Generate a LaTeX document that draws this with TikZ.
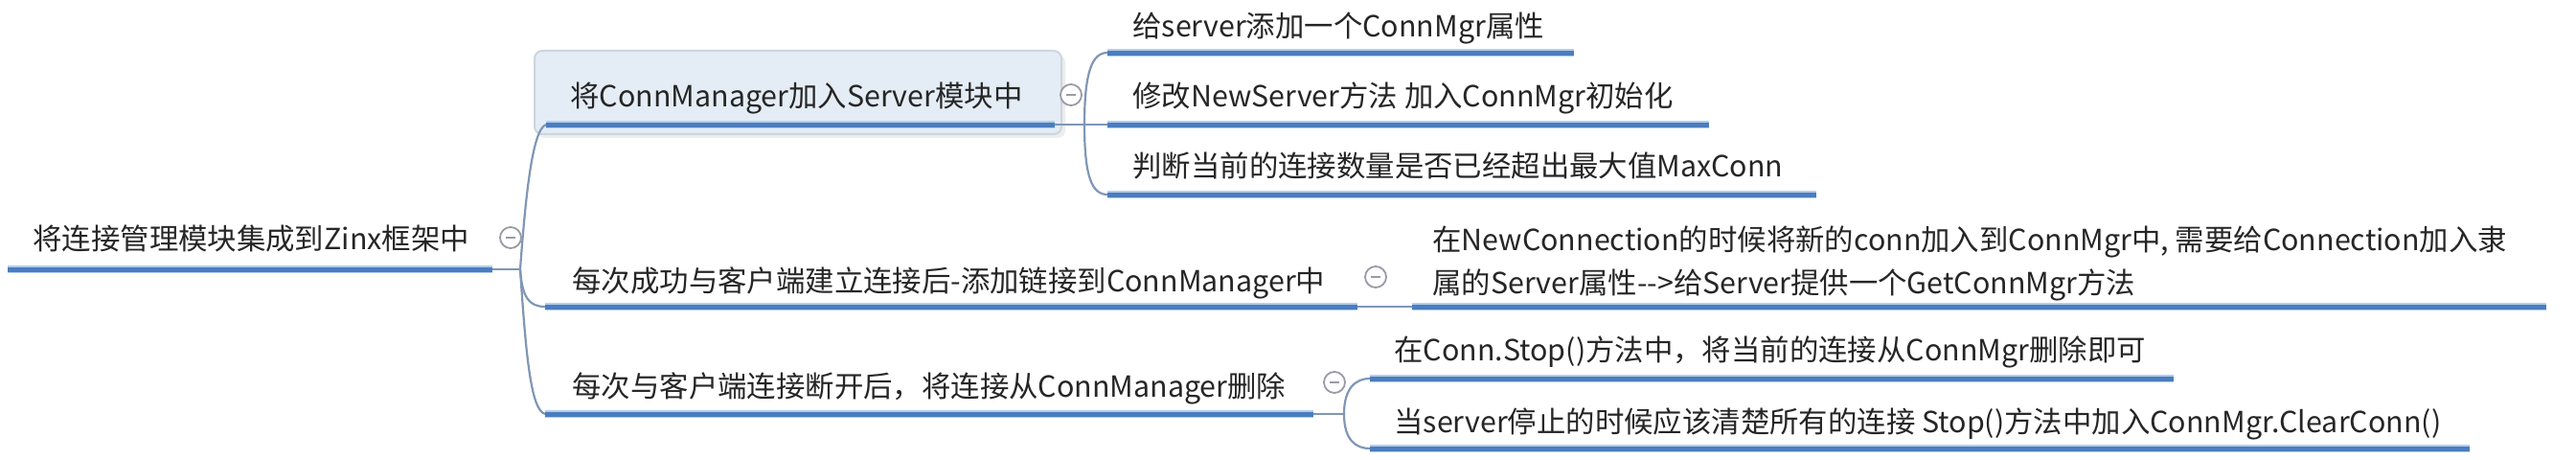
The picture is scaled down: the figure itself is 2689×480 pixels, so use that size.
\documentclass[tikz,border=0pt]{standalone}
\usepackage{fontspec}
\newfontfamily\cjk{Noto Sans CJK SC}
\definecolor{cTxt}{HTML}{262626}
\definecolor{cBar}{HTML}{4A7DC0}
\definecolor{cHalo}{HTML}{B3CDEB}
\definecolor{cConn}{HTML}{7F97B5}
\definecolor{cBtn}{HTML}{9A9AA8}
\definecolor{cSelFill}{HTML}{E4EDF5}
\definecolor{cSelDraw}{HTML}{CDD6DF}
\tikzset{
  topic/.style={font=\cjk\fontsize{15.2}{22.5}\selectfont, text=cTxt, inner sep=0pt, anchor=base west, align=left},
  halo/.style={line width=3.8pt, draw=cHalo},
  bar/.style={line width=2.4pt, draw=cBar},
  conn/.style={draw=cConn, line width=1.1pt},
  btn/.style={circle, draw=cBtn, line width=0.9pt, minimum size=11pt, inner sep=0pt, fill=white,
    path picture={\draw[cBtn, line width=0.9pt] ([xshift=-2.6pt]path picture bounding box.center) -- ([xshift=2.6pt]path picture bounding box.center);}},
  selbox/.style={fill=cSelFill, draw=cSelDraw, line width=1pt, rounded corners=4pt},
}
\begin{document}
\begin{tikzpicture}[x=0.5pt,y=-0.5pt]
\fill[white] (0,0) rectangle (2689,480);
\useasboundingbox (0,0) rectangle (2689,480);

% selection box of the first sub topic
\fill[black!7, rounded corners=4pt] (561,57) rectangle (1112,144);
\path[selbox] (558,53) rectangle (1108,140);

% underline end points
\coordinate (root-l) at (8,281);    \coordinate (root-r) at (514,281);
\coordinate (n1-l) at (570,130);    \coordinate (n1-r) at (1101,130);
\coordinate (n2-l) at (569,320);    \coordinate (n2-r) at (1417,320);
\coordinate (n3-l) at (569,432);    \coordinate (n3-r) at (1371,432);
\coordinate (c11-l) at (1156,55);   \coordinate (c11-r) at (1643,55);
\coordinate (c12-l) at (1156,130);  \coordinate (c12-r) at (1784,130);
\coordinate (c13-l) at (1156,203);  \coordinate (c13-r) at (1896,203);
\coordinate (c21-l) at (1474,320);  \coordinate (c21-r) at (2658,320);
\coordinate (c31-l) at (1430,395);  \coordinate (c31-r) at (2269,395);
\coordinate (c32-l) at (1430,468);  \coordinate (c32-r) at (2578,468);
% branch points
\coordinate (sp0) at (543,281);
\coordinate (sp1) at (1132,130);
\coordinate (sp3) at (1403,432);

% connectors
\draw[conn] (root-r) -- (sp0);
\draw[conn] (sp0) .. controls +(6,-81) and +(-14,5) .. (n1-l);
\draw[conn] (sp0) .. controls +(2,29) and +(-17,0) .. (n2-l);
\draw[conn] (sp0) .. controls +(6,89) and +(-15,-4) .. (n3-l);
\draw[conn] (n1-r) -- (sp1);
\draw[conn] (sp1) .. controls +(0,-55) and +(-16,0) .. (c11-l);
\draw[conn] (sp1) -- (c12-l);
\draw[conn] (sp1) .. controls +(0,55) and +(-16,0) .. (c13-l);
\draw[conn] (n2-r) -- (c21-l);
\draw[conn] (n3-r) -- (sp3);
\draw[conn] (sp3) .. controls +(0,-28) and +(-14,0) .. (c31-l);
\draw[conn] (sp3) .. controls +(0,28) and +(-14,0) .. (c32-l);

% underlines
\foreach \n in {root,n1,n2,n3,c11,c12,c13,c21,c31,c32}{
  \draw[halo] (\n-l) -- (\n-r);
  \draw[bar] ([yshift=-0.4pt]\n-l) -- ([yshift=-0.4pt]\n-r);
}

% texts
\node[topic] (root) at (34,261) {将连接管理模块集成到Zinx框架中};
\node[topic] (n1) at (595,112) {将ConnManager加入Server模块中};
\node[topic] (n2) at (597,305) {每次成功与客户端建立连接后-添加链接到ConnManager中};
\node[topic] (n3) at (597,415) {每次与客户端连接断开后，将连接从ConnManager删除};
\node[topic] (c11) at (1182,39) {给server添加一个ConnMgr属性};
\node[topic] (c12) at (1182,112) {修改NewServer方法 加入ConnMgr初始化};
\node[topic] (c13) at (1182,185) {判断当前的连接数量是否已经超出最大值MaxConn};
\node[topic] (c21) at (1495,307) {在NewConnection的时候将新的conn加入到ConnMgr中, 需要给Connection加入隶\\属的Server属性-{}->给Server提供一个GetConnMgr方法};
\node[topic] (c31) at (1455,377) {在Conn.Stop()方法中，将当前的连接从ConnMgr删除即可};
\node[topic] (c32) at (1455,452) {当server停止的时候应该清楚所有的连接 Stop()方法中加入ConnMgr.ClearConn()};

% collapse buttons
\node[btn] (b0) at (533,248) {};
\node[btn] (b1) at (1118,99) {};
\node[btn] (b2) at (1436,289) {};
\node[btn] (b3) at (1393,399) {};
\end{tikzpicture}
\end{document}
